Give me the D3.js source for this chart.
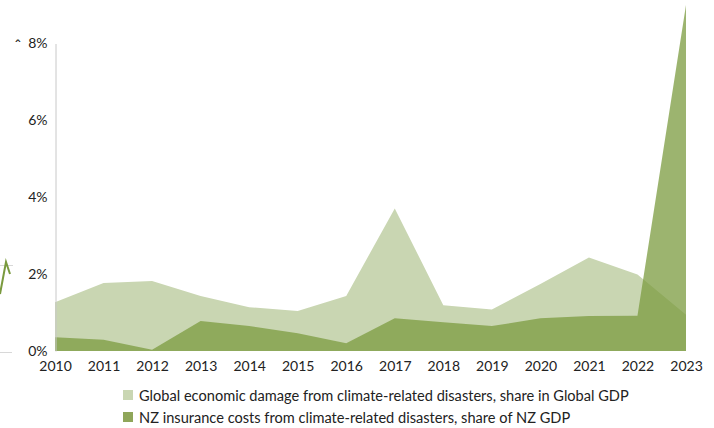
<!DOCTYPE html>
<html>
<head>
<meta charset="utf-8">
<script src="https://cdn.jsdelivr.net/npm/d3@7"></script>
<style>
  html, body { margin: 0; padding: 0; background: #fff; }
  svg { display: block; }
  text { font-family: Lato, "Open Sans", sans-serif; fill: #222; }
</style>
</head>
<body>
<svg id="chart" width="714" height="428"></svg>
<script>
// Years on the x axis
const years = [2010, 2011, 2012, 2013, 2014, 2015, 2016, 2017, 2018, 2019, 2020, 2021, 2022, 2023];
// Global economic damage from climate-related disasters, % of global GDP
const globalDamage = [1.27, 1.77, 1.82, 1.43, 1.14, 1.04, 1.43, 3.71, 1.19, 1.08, 1.74, 2.43, 1.99, 0.94];
// NZ insurance costs from climate-related disasters, % of NZ GDP
const nzInsurance = [0.36, 0.29, 0.03, 0.78, 0.65, 0.46, 0.20, 0.85, 0.75, 0.65, 0.85, 0.91, 0.92, 9.0];
// Y-axis tick values (percent)
const yTicks = [0, 2, 4, 6, 8];
const legendLabels = [
  "Global economic damage from climate-related disasters, share in Global GDP",
  "NZ insurance costs from climate-related disasters, share of NZ GDP"
];

const svg = d3.select("#chart");

const x = d3.scaleLinear().domain([2010, 2023]).range([55, 686]);
const y = d3.scaleLinear().domain([0, 8]).range([351, 43.5]);

// Fragment of the neighbouring panel on the left edge
const frag = svg.append("g");
frag.append("line").attr("x1", 0).attr("x2", 13).attr("y1", 265.5).attr("y2", 265.5)
  .attr("stroke", "#d8d8d8").attr("stroke-width", 1);
frag.append("line").attr("x1", 0).attr("x2", 12).attr("y1", 352.5).attr("y2", 352.5)
  .attr("stroke", "#d8d8d8").attr("stroke-width", 1);
frag.append("path")
  .attr("d", "M0,294 L3,278 L6,262 L8,268 L10,274")
  .attr("fill", "none").attr("stroke", "#7a9a3e").attr("stroke-width", 2);
frag.append("text").attr("x", 18).attr("y", 52).attr("text-anchor", "middle")
  .style("font-size", "17px").text("ˆ");

// Areas
const area = vals => d3.area()
  .x((d, i) => x(years[i]))
  .y0(y(0))
  .y1(d => y(d))(vals);

svg.append("path").attr("d", area(globalDamage)).attr("fill", "#c9d6b2");
svg.append("path").attr("d", area(nzInsurance)).attr("fill", "#7b9b3f").attr("fill-opacity", 0.75);

// Y axis
const yAxis = d3.axisLeft(y).tickValues(yTicks).tickSize(0).tickPadding(8)
  .tickFormat(d => d + "%");
const ya = svg.append("g").attr("transform", "translate(55.5,0)").call(yAxis);
ya.select(".domain").attr("stroke", "#c8c8c8");
ya.selectAll("text").style("font-size", "14px").style("fill", "#222")
  .style("font-family", "Lato, 'Open Sans', sans-serif");

// X axis labels
const xAxis = d3.axisBottom(x).tickValues(years).tickSize(0).tickPadding(10)
  .tickFormat(d3.format("d"));
const xa = svg.append("g").attr("transform", "translate(0,351)").call(xAxis);
xa.select(".domain").remove();
xa.selectAll("text").style("font-size", "14px").style("fill", "#222")
  .style("font-family", "Lato, 'Open Sans', sans-serif");

// Legend
const legendColors = ["#c9d6b2", "#8fa65a"];
const lg = svg.append("g");
legendLabels.forEach((t, i) => {
  const cy = 396 + i * 22;
  lg.append("rect").attr("x", 123).attr("y", cy - 6).attr("width", 10).attr("height", 10)
    .attr("fill", legendColors[i]);
  lg.append("text").attr("x", 139).attr("y", cy + 5)
    .style("font-size", "14.6px").text(t);
});
</script>
</body>
</html>
